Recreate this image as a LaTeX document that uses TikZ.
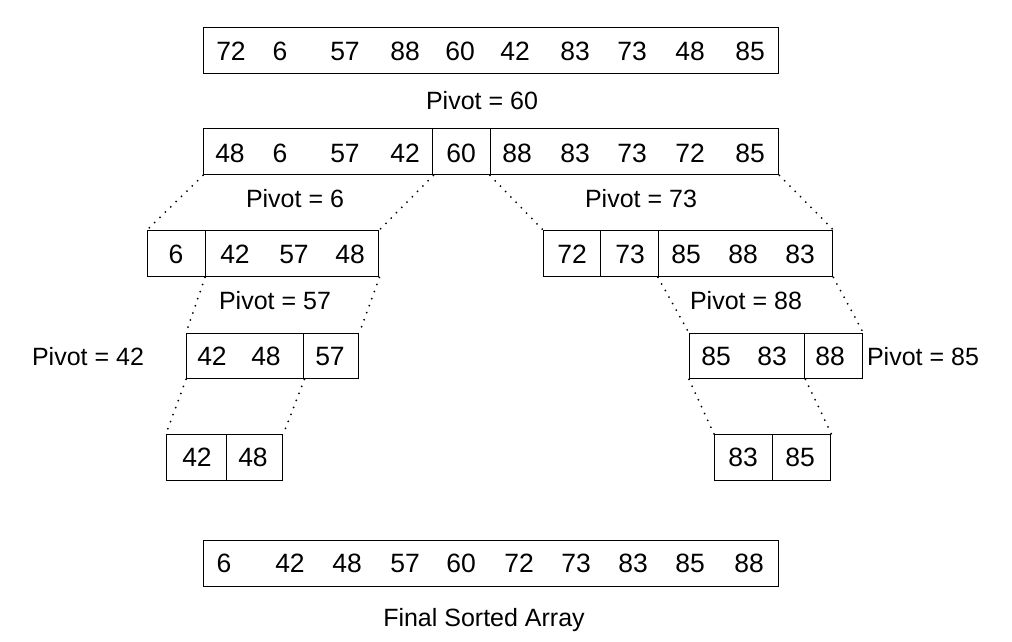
\documentclass[tikz,border=0pt]{standalone}
\usepackage{fontspec}
\setmainfont{Liberation Sans}
\begin{document}
\begin{tikzpicture}[x=1pt,y=-1pt,
  cell/.style={draw, line width=1.4pt, inner sep=0pt, anchor=north west, minimum height=46pt},
  num/.style={font=\fontsize{26.5}{30}\selectfont, inner sep=0pt, text height=19pt, text depth=0pt},
  lbl/.style={font=\fontsize{25}{29}\selectfont, inner sep=0pt, text height=18pt, text depth=0pt},
  conn/.style={line width=2pt, dash pattern=on 0pt off 7.5pt, line cap=round}]
\useasboundingbox (0,0) rectangle (1012,641);
% top array
\node[cell, minimum width=575pt] (top) at (203,27) {};
\foreach \v/\x in {72/231,6/280,57/345,88/405,60/460,42/515,83/575,73/632,48/690,85/750}
  \node[num] at (\x,51) {\v};
\node[lbl] (p60) at (482,100) {Pivot = 60};
% row 2
\node[cell, minimum width=229pt] (r2a) at (203,128) {};
\node[cell, minimum width=58pt] (r2b) at (432,128) {};
\node[cell, minimum width=288pt] (r2c) at (490,128) {};
\foreach \v/\x in {48/230,6/280,57/345,42/405,60/461,88/517,83/575,73/632,72/690,85/750}
  \node[num] at (\x,153) {\v};
\node[lbl] (p6) at (295,198) {Pivot = 6};
\node[lbl] (p73) at (641,198) {Pivot = 73};
% row 3
\node[cell, minimum width=58pt] (r3la) at (147,230) {};
\node[cell, minimum width=173pt] (r3lb) at (205,230) {};
\foreach \v/\x in {6/176,42/235,57/294,48/350}
  \node[num] at (\x,254) {\v};
\node[cell, minimum width=57pt] (r3ra) at (543,230) {};
\node[cell, minimum width=58pt] (r3rb) at (600,230) {};
\node[cell, minimum width=174pt] (r3rc) at (658,230) {};
\foreach \v/\x in {72/572,73/630,85/686,88/743,83/800}
  \node[num] at (\x,254) {\v};
\node[lbl] (p57) at (275,300) {Pivot = 57};
\node[lbl] (p88) at (746,300) {Pivot = 88};
% row 4
\node[cell, minimum width=117pt, minimum height=45pt] (r4la) at (186,333) {};
\node[cell, minimum width=55pt, minimum height=45pt] (r4lb) at (303,333) {};
\foreach \v/\x in {42/212,48/266,57/330}
  \node[num] at (\x,356) {\v};
\node[lbl] (p42) at (88,356) {Pivot = 42};
\node[cell, minimum width=115pt, minimum height=45pt] (r4ra) at (689,333) {};
\node[cell, minimum width=58pt, minimum height=45pt] (r4rb) at (804,333) {};
\foreach \v/\x in {85/716,83/772,88/830}
  \node[num] at (\x,356) {\v};
\node[lbl] (p85) at (923,356) {Pivot = 85};
% row 5
\node[cell, minimum width=60pt] (r5la) at (166,434) {};
\node[cell, minimum width=56pt] (r5lb) at (226,434) {};
\foreach \v/\x in {42/197,48/253}
  \node[num] at (\x,457) {\v};
\node[cell, minimum width=58pt] (r5ra) at (714,434) {};
\node[cell, minimum width=58pt] (r5rb) at (772,434) {};
\foreach \v/\x in {83/743,85/800}
  \node[num] at (\x,457) {\v};
% final
\node[cell, minimum width=575pt] (fin) at (203,540) {};
\foreach \v/\x in {6/224,42/290,48/347,57/405,60/461,72/519,73/576,83/633,85/690,88/749}
  \node[num] at (\x,563) {\v};
\node[lbl] (fsa) at (484,617) {Final Sorted Array};
% connectors
\draw[conn] (r2a.south west) -- (r3la.north west);
\draw[conn] (r2a.south east) -- (r3lb.north east);
\draw[conn] (r2c.south west) -- (r3ra.north west);
\draw[conn] (r2c.south east) -- (r3rc.north east);
\draw[conn] (r3lb.south west) -- (r4la.north west);
\draw[conn] (r3lb.south east) -- (r4lb.north east);
\draw[conn] (r4la.south west) -- (r5la.north west);
\draw[conn] (r4la.south east) -- (r5lb.north east);
\draw[conn] (r3rc.south west) -- (r4ra.north west);
\draw[conn] (r3rc.south east) -- (r4rb.north east);
\draw[conn] (r4ra.south west) -- (r5ra.north west);
\draw[conn] (r4ra.south east) -- (r5rb.north east);
\end{tikzpicture}
\end{document}
